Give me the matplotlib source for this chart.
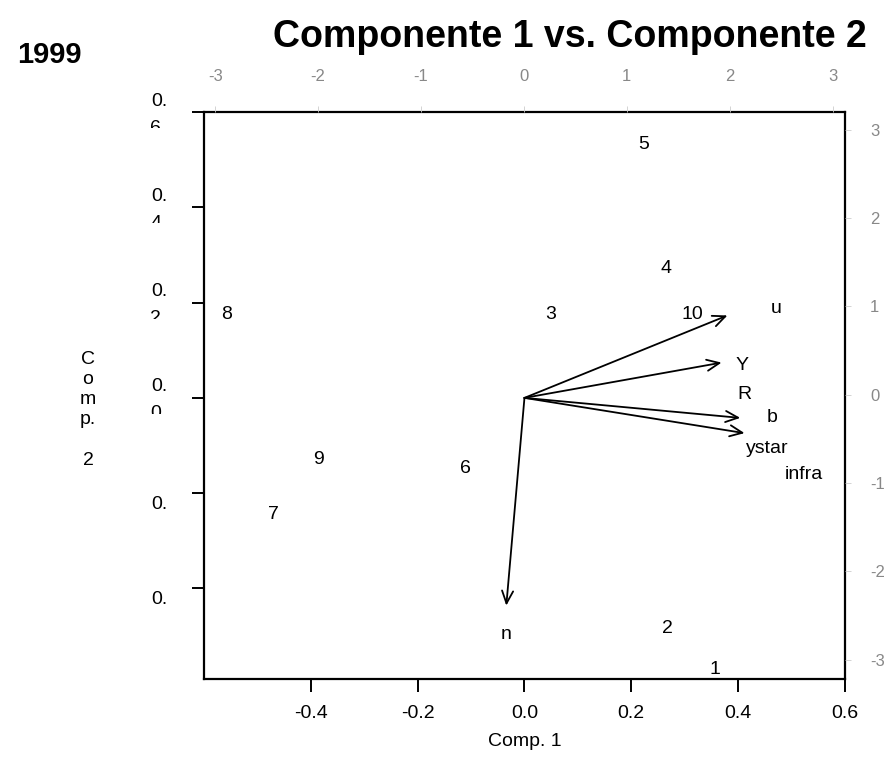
import matplotlib
matplotlib.use("Agg")
import matplotlib.pyplot as plt
import matplotlib.transforms as mtransforms

plt.rcParams["font.family"] = ["Liberation Sans", "DejaVu Sans"]
plt.rcParams["axes.unicode_minus"] = False

# observation scores (top / right axes)
obs_labels = ["1", "2", "3", "4", "5", "6", "7", "8", "9", "10"]
score1 = [1.86, 1.39, 0.26, 1.38, 1.16, -0.57, -2.43, -2.89, -2.00, 1.64]
score2 = [-3.11, -2.65, 0.91, 1.43, 2.83, -0.84, -1.36, 0.91, -0.74, 0.91]

# variable loadings, arrow tips (bottom / left axes)
arrow_vars = ["u", "Y", "b", "ystar", "n"]
load1 = [0.380, 0.369, 0.404, 0.412, -0.034]
load2 = [0.173, 0.074, -0.042, -0.074, -0.436]

# variable names as printed
var_labels = ["u", "Y", "R", "b", "ystar", "infra", "n"]
lab1 = [0.472, 0.408, 0.412, 0.464, 0.455, 0.524, -0.034]
lab2 = [0.187, 0.067, 0.008, -0.042, -0.107, -0.160, -0.497]

load_xticks = [-0.4, -0.2, 0.0, 0.2, 0.4, 0.6]
load_yticks = [-0.4, -0.2, 0.0, 0.2, 0.4, 0.6]
score_ticks = [-3, -2, -1, 0, 1, 2, 3]

fig = plt.figure(figsize=(8.93, 7.79), dpi=100)
rect = [0.2284, 0.1284, 0.7178, 0.7278]

# loadings axes
ax = fig.add_axes(rect)
ax.set_xlim(-0.6, 0.6)
ax.set_ylim(-0.59, 0.6)
for s in ax.spines.values():
    s.set_linewidth(1.6)
ax.set_xticks(load_xticks)
ax.set_xticklabels([f"{v:.1f}" for v in load_xticks])
ax.tick_params(axis="x", direction="out", length=9, width=1.4, labelsize=14, pad=10)
ax.set_yticks(load_yticks)
ax.set_yticklabels([])
ax.tick_params(axis="y", direction="out", length=9, width=1.4)

# the left tick labels are cut in the original: "0." plus the top of the digit
blend = mtransforms.blended_transform_factory(ax.transAxes, ax.transData)
for v in load_yticks:
    if v >= 0:
        t = mtransforms.offset_copy(blend, fig=fig, x=0, y=11, units="dots")
        ax.text(-0.069, v, "0.", transform=t, ha="center", va="center",
                fontsize=14, clip_on=False)
        t2 = mtransforms.offset_copy(blend, fig=fig, x=0, y=-16, units="dots")
        d = ax.text(-0.075, v, f"{v:.1f}"[-1], transform=t2, ha="center",
                    va="center", fontsize=14)
        box = mtransforms.Bbox([[-0.3, v - 16 / 475], [0.0, v + 0.05]])
        d.set_clip_box(mtransforms.TransformedBbox(box, blend))
        d.set_clip_on(True)
    else:
        t = mtransforms.offset_copy(blend, fig=fig, x=0, y=-11, units="dots")
        ax.text(-0.069, v, "0.", transform=t, ha="center", va="center",
                fontsize=14, clip_on=False)

for name, x, y in zip(arrow_vars, load1, load2):
    ax.annotate("", xy=(x, y), xytext=(0, 0),
                arrowprops=dict(arrowstyle="->,head_length=0.9,head_width=0.4",
                                lw=1.3, color="black", shrinkA=0, shrinkB=0))
for name, x, y in zip(var_labels, lab1, lab2):
    ax.text(x, y, name, ha="center", va="center", fontsize=14)

# scores axes
ax_s = fig.add_axes(rect, frameon=False)
ax_s.patch.set_visible(False)
ax_s.set_xlim(-3.11, 3.12)
ax_s.set_ylim(-3.22, 3.2)
ax_s.xaxis.tick_top()
ax_s.yaxis.tick_right()
ax_s.set_xticks(score_ticks)
ax_s.set_yticks(score_ticks)
ax_s.tick_params(axis="x", direction="out", length=4, width=0.6, color="#cccccc",
                 labelcolor="#888888", labelsize=12, pad=16)
ax_s.tick_params(axis="y", direction="out", length=4, width=0.6, color="#cccccc",
                 labelcolor="#888888", labelsize=12, pad=14)
for lab, x, y in zip(obs_labels, score1, score2):
    ax_s.text(x, y, lab, ha="center", va="center", fontsize=14)

fig.text(0.638, 0.952, "Componente 1 vs. Componente 2", ha="center", va="center",
         fontsize=27, fontweight="bold")
fig.text(0.055, 0.929, "1999", ha="center", va="center", fontsize=21,
         fontweight="bold")
fig.text(0.588, 0.0475, "Comp. 1", ha="center", va="center", fontsize=14)
fig.text(0.0985, 0.474, "C\no\nm\np.\n\n2", ha="center", va="center",
         fontsize=14, linespacing=1.25)

fig.savefig("out.png", dpi=100)
